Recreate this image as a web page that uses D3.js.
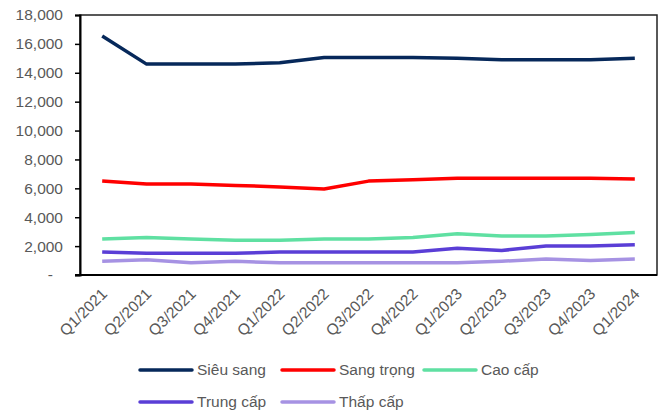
<!DOCTYPE html>
<html>
<head>
<meta charset="utf-8">
<script src="https://cdn.jsdelivr.net/npm/d3@7"></script>
<style>
  html, body { margin: 0; padding: 0; background: #fff; }
  svg { display: block; font-family: "Liberation Sans", Arial, sans-serif; }
</style>
</head>
<body>
<svg id="chart" width="662" height="412"></svg>
<script>
const categories = ["Q1/2021","Q2/2021","Q3/2021","Q4/2021","Q1/2022","Q2/2022","Q3/2022","Q4/2022","Q1/2023","Q2/2023","Q3/2023","Q4/2023","Q1/2024"];
const seriesNames = ["Siêu sang","Sang trọng","Cao cấp","Trung cấp","Thấp cấp"];
const sieuSang  = [16550,14600,14600,14600,14700,15050,15050,15050,15000,14900,14900,14900,15000];
const sangTrong = [6500,6300,6300,6200,6100,5950,6500,6600,6700,6700,6700,6700,6650];
const caoCap    = [2500,2600,2500,2400,2400,2500,2500,2600,2850,2700,2700,2800,2950];
const trungCap  = [1600,1500,1500,1500,1600,1600,1600,1600,1850,1700,2000,2000,2100];
const thapCap   = [950,1050,850,950,850,850,850,850,850,950,1100,1000,1100];
const yTicks = [0,2000,4000,6000,8000,10000,12000,14000,16000,18000];
const colors = ["#06285a","#ff0000","#5fe0a2","#5a3ed6","#a692e3"];
const seriesValues = [sieuSang, sangTrong, caoCap, trungCap, thapCap];

const svg = d3.select("#chart");
const mLeft = 80, mRight = 657, mTop = 15, mBottom = 275;
const textColor = "#595959";
const fontSize = "15.5px";

const x = d3.scaleBand().domain(categories).range([mLeft, mRight]);
const y = d3.scaleLinear().domain([0, 18000]).range([mBottom, mTop]);

// plot border (top/right)
svg.append("rect").attr("x", mLeft).attr("y", mTop).attr("width", mRight - mLeft).attr("height", mBottom - mTop)
  .attr("fill", "none").attr("stroke", "#222").attr("stroke-width", 1.5);

// y axis
const yAxis = svg.append("g").attr("transform", `translate(${mLeft},0)`)
  .call(d3.axisLeft(y).tickValues(yTicks).tickSizeOuter(0).tickSize(5)
    .tickFormat(d => d === 0 ? "-" : d3.format(",")(d)));
yAxis.select(".domain").attr("stroke", "#000").attr("stroke-width", 2);
yAxis.selectAll(".tick line").attr("stroke", "#000").attr("stroke-width", 1.5);
yAxis.selectAll(".tick text").attr("fill", textColor).attr("font-size", fontSize)
  .attr("font-family", "Liberation Sans, Arial, sans-serif")
  .attr("x", d => d === 0 ? -27 : -17);

// x axis
const xAxis = svg.append("g").attr("transform", `translate(0,${mBottom})`)
  .call(d3.axisBottom(x).tickSize(0).tickSizeOuter(0));
xAxis.select(".domain").attr("stroke", "#000").attr("stroke-width", 2).attr("d", `M${mLeft - 5},0H${mRight}`);
xAxis.selectAll(".tick text").attr("fill", textColor).attr("font-size", fontSize)
  .attr("font-family", "Liberation Sans, Arial, sans-serif")
  .attr("text-anchor", "end").attr("dy", "0.35em")
  .attr("transform", "translate(2,16) rotate(-45)").attr("y", 0).attr("x", 0);

// lines
const line = d3.line().x((d, i) => x(categories[i]) + x.bandwidth() / 2).y(d => y(d));
seriesValues.forEach((vals, k) => {
  svg.append("path").datum(vals).attr("d", line).attr("fill", "none")
    .attr("stroke", colors[k]).attr("stroke-width", 3.5).attr("stroke-linejoin", "round");
});

// legend
const legendPos = [[140, 370], [282, 370], [424, 370], [140, 402], [282, 402]];
seriesNames.forEach((name, k) => {
  const [lx, ly] = legendPos[k];
  const g = svg.append("g").attr("transform", `translate(${lx},${ly})`);
  g.append("line").attr("x1", 0).attr("x2", 52).attr("y1", 0).attr("y2", 0)
    .attr("stroke", colors[k]).attr("stroke-width", 3.5).attr("stroke-linecap", "round");
  g.append("text").attr("x", 57).attr("y", 0).attr("dy", "0.35em")
    .attr("fill", textColor).attr("font-size", fontSize).text(name);
});
</script>
</body>
</html>
